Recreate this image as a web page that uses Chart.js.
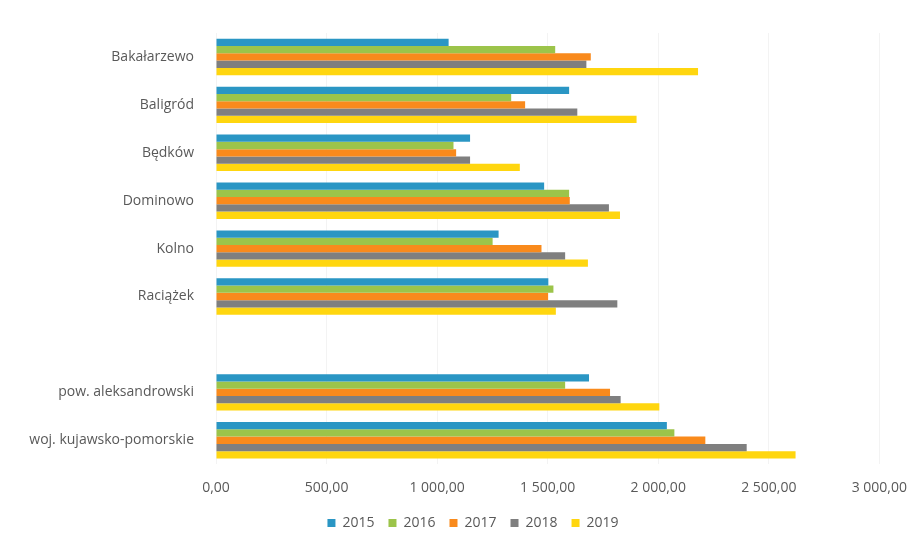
<!DOCTYPE html>
<html>
<head>
<meta charset="utf-8">
<script src="https://cdn.jsdelivr.net/npm/chart.js@4/dist/chart.umd.min.js"></script>
<style>
  html, body { margin: 0; padding: 0; background: #fff; }
  #wrap { width: 922px; height: 546px; }
</style>
</head>
<body>
<div id="wrap"><canvas id="canvas"></canvas></div>
<script>
// gminy + powiat + województwo (empty slot keeps the gap before the totals)
const categories = ["Bakałarzewo", "Baligród", "Będków", "Dominowo", "Kolno", "Raciążek", "",
    "pow. aleksandrowski", "woj. kujawsko-pomorskie"];

const years = ["2015", "2016", "2017", "2018", "2019"];

const v2015 = [1052, 1597, 1149, 1484, 1278, 1503, null, 1687, 2039];
const v2016 = [1534, 1335, 1074, 1597, 1251, 1526, null, 1579, 2073];
const v2017 = [1695, 1398, 1086, 1600, 1472, 1502, null, 1782, 2213];
const v2018 = [1675, 1634, 1149, 1777, 1579, 1815, null, 1830, 2400];
const v2019 = [2180, 1902, 1374, 1827, 1682, 1537, null, 2005, 2621];

const xTicks = [0, 500, 1000, 1500, 2000, 2500, 3000];

const COLORS = ["#2a96c4", "#9cc44a", "#f98a1c", "#7f7f7f", "#ffd60f"];

// "1 000,00" style numbers
function plNum(v) {
    let parts = v.toFixed(2).split(".");
    parts[0] = parts[0].replace(/\B(?=(\d{3})+(?!\d))/g, " ");
    return parts.join(",");
}

let series = [v2015, v2016, v2017, v2018, v2019];
let datasets = series.map(function (d, i) {
    return {
        label: years[i],
        data: d,
        backgroundColor: COLORS[i],
        borderWidth: 0,
        categoryPercentage: 0.76,
        barPercentage: 1.0
    };
});

// wide gaps between legend items but a short legend box,
// and the whole legend sits a bit right of the canvas centre
const legendTweak = {
    id: 'legendTweak',
    beforeLayout: function (chart) {
        let lg = chart.legend;
        if (lg && !lg._tweaked) {
            let fit = lg.fit;
            lg.fit = function () {
                fit.call(this);
                this.height -= 10;
            };
            lg._tweaked = true;
        }
    },
    afterLayout: function (chart) {
        let lg = chart.legend;
        lg.left += 33;
        lg.right += 33;
        lg.top -= 9;
        lg.bottom -= 9;
    }
};

Chart.defaults.font.family = "'Open Sans', Lato, sans-serif";
Chart.defaults.color = "#595959";

let ctx = document.getElementById('canvas').getContext("2d");
let myChart = new Chart(ctx, {
    type: 'bar',
    data: {
        labels: categories,
        datasets: datasets
    },
    plugins: [legendTweak],
    options: {
        indexAxis: 'y',
        responsive: true,
        maintainAspectRatio: false,
        animation: false,
        layout: {
            padding: { left: 0, right: 42, top: 33, bottom: 7 }
        },
        scales: {
            x: {
                min: 0,
                max: 3000,
                afterBuildTicks: function (scale) {
                    scale.ticks = xTicks.map(v => ({ value: v }));
                },
                grid: { color: "#f3f3f3", drawTicks: false },
                border: { display: false },
                ticks: {
                    padding: 15,
                    font: { size: 14 },
                    callback: function (value) { return plNum(value); }
                }
            },
            y: {
                grid: { display: false },
                border: { display: false },
                afterFit: function (scale) { scale.width = 216; },
                ticks: {
                    padding: 14,
                    font: { size: 14 }
                }
            }
        },
        plugins: {
            legend: {
                position: 'bottom',
                labels: {
                    boxWidth: 8,
                    boxHeight: 8,
                    padding: 14,
                    font: { size: 14 }
                }
            },
            tooltip: { enabled: false }
        }
    }
});
</script>
</body>
</html>
